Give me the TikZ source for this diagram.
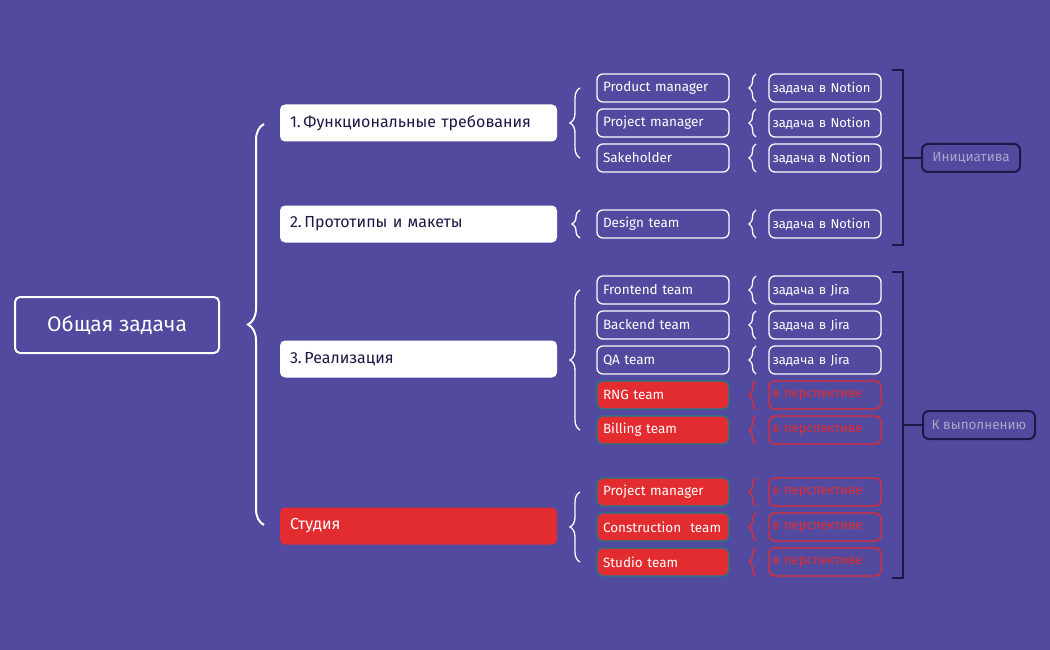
\documentclass[tikz,border=0pt]{standalone}
\usepackage{fontspec}
\setmainfont{Fira Sans}
\usetikzlibrary{decorations.pathreplacing}
\definecolor{bg}{HTML}{524A9E}
\definecolor{rd}{HTML}{E22C30}
\definecolor{nv}{HTML}{1D1947}
\definecolor{tl}{HTML}{1E7A8A}
\definecolor{gr}{HTML}{A9A5CC}
\begin{document}
\begin{tikzpicture}[x=1pt,y=-1pt,
 mainbox/.style={draw=white,line width=2pt,rounded corners=5pt,minimum width=204pt,minimum height=56pt,text=white,font=\fontsize{21}{24}\selectfont},
 lvtwo/.style={fill=white,rounded corners=5pt,minimum width=277pt,minimum height=37pt,text=nv,font=\fontsize{16}{18}\selectfont,text width=257pt,align=left},
 lvtwored/.style={lvtwo,fill=rd,text=white},
 team/.style={draw=white,line width=1.3pt,rounded corners=6pt,minimum width=132pt,minimum height=28pt,text=white,font=\fontsize{13.5}{15}\selectfont,text width=120pt,align=left,inner xsep=6pt},
 teamred/.style={team,fill=rd,draw=tl},
 task/.style={draw=white,line width=1.3pt,rounded corners=6pt,minimum width=112pt,minimum height=28pt,text=white,font=\fontsize{13}{15}\selectfont,text width=105pt,align=left,inner xsep=3.5pt},
 taskred/.style={task,draw=rd,text=rd},
 br/.style={draw=white,line width=1.3pt,decorate,decoration={brace,amplitude=#1}},
 dk/.style={draw=nv,line width=2pt,rounded corners=6pt,minimum height=28pt,text=gr,font=\fontsize{13.5}{15}\selectfont}]
\fill[bg] (0,0) rectangle (1050,650);
\useasboundingbox (0,0) rectangle (1050,650);
\node[mainbox] (m) at (117,325) {Общая задача};
\node[lvtwo] (a) at (418.5,123) {1.\,Функциональные требования};
\node[lvtwo] (b) at (418.5,224) {2.\,Прототипы и макеты};
\node[lvtwo] (c) at (418.5,359) {3.\,Реализация};
\node[lvtwored] (d) at (418.5,526) {Студия};
\draw[br=16pt,line width=2pt] (264,525) -- (264,124);
\draw[br=10pt] (580,158) -- (580,88);
\draw[br=8pt] (580,238) -- (580,210);
\draw[br=10pt] (580,430) -- (580,290);
\draw[br=10pt] (580,562) -- (580,492);
\foreach \y/\t/\k [count=\i] in {88/Product manager/task,123/Project manager/task,158/Sakeholder/task,224/Design team/task,290/Frontend team/jira,325/Backend team/jira,360/QA team/jira,395/RNG team/red,430/Billing team/red,492/Project manager/red,527/Construction\ \ team/red,562/Studio team/red}{
 \def\r{red}\def\j{jira}
 \ifx\k\r
  \node[teamred] (t\i) at (663,\y) {\t};
  \node[taskred] (s\i) at (825,\y) {в перспективе};
  \draw[br=7pt,draw=rd] (756,\y+14) -- (756,\y-14);
 \else
  \node[team] (t\i) at (663,\y) {\t};
  \ifx\k\j \node[task] (s\i) at (825,\y) {задача в Jira};
  \else \node[task] (s\i) at (825,\y) {\mbox{задача в Notion}};\fi
  \draw[br=7pt] (756,\y+14) -- (756,\y-14);
 \fi
}
\draw[nv,line width=2pt] (892,70) -- (903,70) -- (903,245) -- (892,245);
\draw[nv,line width=2pt] (903,158) -- (922,158);
\node[dk,minimum width=98pt] (i) at (971,158) {Инициатива};
\draw[nv,line width=2pt] (892,272) -- (903,272) -- (903,578) -- (892,578);
\draw[nv,line width=2pt] (903,425) -- (923,425);
\node[dk,minimum width=112pt] (k) at (979,425) {К выполнению};
\end{tikzpicture}
\end{document}
